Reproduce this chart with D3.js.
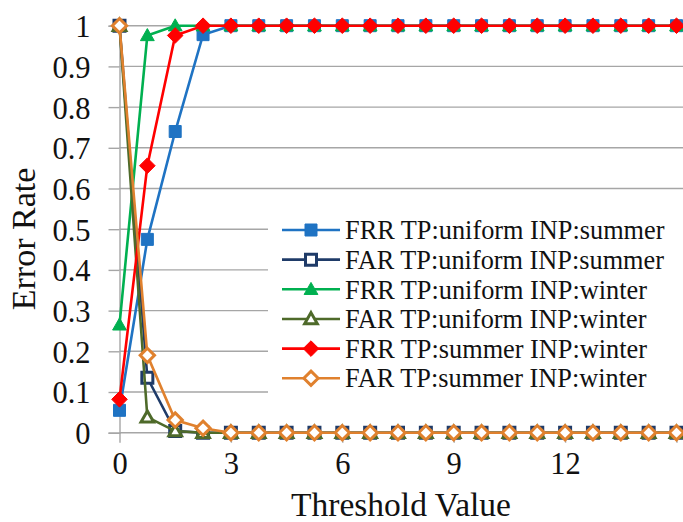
<!DOCTYPE html>
<html>
<head>
<meta charset="utf-8">
<script src="https://cdn.jsdelivr.net/npm/d3@7/dist/d3.min.js"></script>
<style>
  html, body { margin: 0; padding: 0; background: #fff; }
  svg text { font-family: "Liberation Serif", "Times New Roman", serif; }
</style>
</head>
<body>
<svg id="chart" width="683" height="522"></svg>
<script>
// Threshold values (step 0.75, from 0 to 15)
const thresholds = [0, 0.75, 1.5, 2.25, 3, 3.75, 4.5, 5.25, 6, 6.75, 7.5, 8.25, 9, 9.75, 10.5, 11.25, 12, 12.75, 13.5, 14.25, 15];

const frrUniformSummer = [0.055, 0.475, 0.74, 0.978, 1, 1, 1, 1, 1, 1, 1, 1, 1, 1, 1, 1, 1, 1, 1, 1, 1];
const farUniformSummer = [1, 0.135, 0.004, 0, 0, 0, 0, 0, 0, 0, 0, 0, 0, 0, 0, 0, 0, 0, 0, 0, 0];
const frrUniformWinter = [0.265, 0.976, 1, 1, 1, 1, 1, 1, 1, 1, 1, 1, 1, 1, 1, 1, 1, 1, 1, 1, 1];
const farUniformWinter = [1, 0.038, 0.004, 0, 0, 0, 0, 0, 0, 0, 0, 0, 0, 0, 0, 0, 0, 0, 0, 0, 0];
const frrSummerWinter  = [0.082, 0.656, 0.976, 1, 1, 1, 1, 1, 1, 1, 1, 1, 1, 1, 1, 1, 1, 1, 1, 1, 1];
const farSummerWinter  = [1, 0.19, 0.031, 0.011, 0, 0, 0, 0, 0, 0, 0, 0, 0, 0, 0, 0, 0, 0, 0, 0, 0];

const seriesNames = [
  "FRR TP:uniform INP:summer",
  "FAR TP:uniform INP:summer",
  "FRR TP:uniform INP:winter",
  "FAR TP:uniform INP:winter",
  "FRR TP:summer INP:winter",
  "FAR TP:summer INP:winter"
];

const yTicks = [0, 0.1, 0.2, 0.3, 0.4, 0.5, 0.6, 0.7, 0.8, 0.9, 1];
const yTickLabels = ["0", "0.1", "0.2", "0.3", "0.4", "0.5", "0.6", "0.7", "0.8", "0.9", "1"];
const xTicks = [0, 3, 6, 9, 12, 15];
const xTickLabels = ["0", "3", "6", "9", "12", ""];

// Marker style per series
const styles = [
  { color: "#1F73C3", shape: "square",   hollow: false },
  { color: "#1F3B68", shape: "square",   hollow: true  },
  { color: "#00B050", shape: "triangle", hollow: false },
  { color: "#4E6A2A", shape: "triangle", hollow: true  },
  { color: "#FF0000", shape: "diamond",  hollow: false },
  { color: "#E0812E", shape: "diamond",  hollow: true  }
];
const values = [frrUniformSummer, farUniformSummer, frrUniformWinter, farUniformWinter, frrSummerWinter, farSummerWinter];

const FONT = '"Liberation Serif", "Times New Roman", serif';

const svg = d3.select("#chart");
const x = d3.scaleLinear().domain([0, 15]).range([119.5, 676.5]);
const y = d3.scaleLinear().domain([0, 1]).range([432.7, 25.7]);
const plotRight = 683;

// Horizontal gridlines
const grid = svg.append("g").attr("class", "grid");
grid.selectAll("line").data(yTicks).join("line")
  .attr("x1", x(0)).attr("x2", plotRight)
  .attr("y1", d => y(d)).attr("y2", d => y(d))
  .attr("stroke", "#A6A6A6").attr("stroke-width", 1.4);

// Y axis
const yAxis = d3.axisLeft(y).tickValues(yTicks)
  .tickFormat((d, i) => yTickLabels[i]).tickSize(11).tickPadding(18);
const gy = svg.append("g").attr("transform", `translate(${x(0)},0)`).call(yAxis)
  .attr("font-family", FONT);
gy.select(".domain").attr("stroke", "#A6A6A6").attr("stroke-width", 1.4);
gy.selectAll(".tick line").attr("stroke", "#A6A6A6").attr("stroke-width", 1.4);
gy.selectAll(".tick text").attr("font-size", 30.5).attr("fill", "#111")
  .attr("dy", "0.36em");

// X axis
const xAxis = d3.axisBottom(x).tickValues(xTicks)
  .tickFormat((d, i) => xTickLabels[i]).tickSize(10).tickPadding(10);
const gx = svg.append("g").attr("transform", `translate(0,${y(0)})`).call(xAxis)
  .attr("font-family", FONT);
gx.select(".domain").remove();
gx.selectAll(".tick line").attr("stroke", "#A6A6A6").attr("stroke-width", 1.4);
gx.selectAll(".tick text").attr("font-size", 30.5).attr("fill", "#111");

// Axis titles
svg.append("text")
  .attr("transform", `translate(35,239) rotate(-90)`)
  .attr("text-anchor", "middle")
  .attr("font-size", 34).attr("fill", "#111")
  .text("Error Rate");
svg.append("text")
  .attr("x", 401).attr("y", 516)
  .attr("text-anchor", "middle")
  .attr("font-size", 33.5).attr("fill", "#111")
  .text("Threshold Value");

// Marker path generator
function markerPath(shape, s) {
  if (shape === "square") {
    return `M${-s},${-s}L${s},${-s}L${s},${s}L${-s},${s}Z`;
  }
  if (shape === "triangle") {
    const h = s * 1.15;
    return `M0,${-h}L${h},${h * 0.75}L${-h},${h * 0.75}Z`;
  }
  const d = s * 1.3;
  return `M0,${-d}L${d},0L0,${d}L${-d},0Z`;
}

function drawMarker(sel, st) {
  const size = st.hollow ? 5.5 : 6;
  sel.append("path")
    .attr("d", markerPath(st.shape, size))
    .attr("fill", st.hollow ? "#fff" : st.color)
    .attr("stroke", st.color)
    .attr("stroke-width", st.hollow ? 3 : 1)
    .attr("stroke-linejoin", "miter");
}

const line = d3.line().x(d => x(d[0])).y(d => y(d[1]));

const seriesG = svg.append("g");
values.forEach((vals, i) => {
  const st = styles[i];
  const pts = thresholds.map((t, j) => [t, vals[j]]);
  const g = seriesG.append("g");
  g.append("path").datum(pts)
    .attr("d", line)
    .attr("fill", "none")
    .attr("stroke", st.color)
    .attr("stroke-width", 2.6);
  g.selectAll("g.m").data(pts).join("g")
    .attr("class", "m")
    .attr("transform", d => `translate(${x(d[0])},${y(d[1])})`)
    .each(function () { drawMarker(d3.select(this), st); });
});

// Legend
const legend = svg.append("g");
legend.append("rect")
  .attr("x", 268).attr("y", 213).attr("width", 415).attr("height", 182)
  .attr("fill", "#fff");
const rowY0 = 230, rowStep = 29.65;
seriesNames.forEach((name, i) => {
  const st = styles[i];
  const cy = rowY0 + i * rowStep;
  const row = legend.append("g");
  row.append("line")
    .attr("x1", 282).attr("x2", 340).attr("y1", cy).attr("y2", cy)
    .attr("stroke", st.color).attr("stroke-width", 2.6);
  const m = row.append("g").attr("transform", `translate(311,${cy})`);
  drawMarker(m, st);
  row.append("text")
    .attr("x", 345).attr("y", cy).attr("dy", "0.35em")
    .attr("font-size", 26.3).attr("fill", "#111")
    .text(name);
});
</script>
</body>
</html>
